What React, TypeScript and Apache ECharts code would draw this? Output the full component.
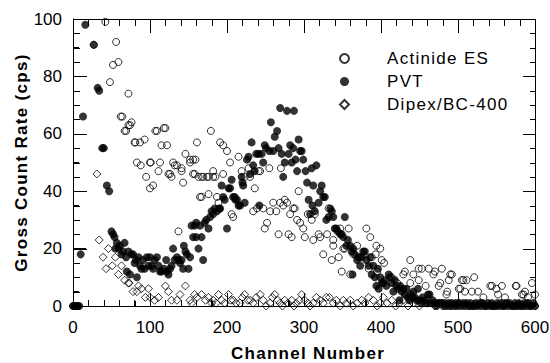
import React, { useEffect, useRef } from "react";
import * as echarts from "echarts";

const FONT = "'Liberation Sans', Arial, Helvetica, sans-serif";
const FONT_SPACED = "'Liberation Sans', Arial, sans-serif";

const seriesNames = ["Actinide ES", "PVT", "Dipex/BC-400"];
const xTitle = "Channel Number";
const yTitle = "Gross Count Rate (cps)";

// [channel, count rate]
const actinideES: [number, number][] = [
  [42, 99], [48, 78], [52, 84], [56, 92], [59, 85], [62, 66], [64, 66], [67, 61], [69, 61], [72, 74],
  [72, 63], [74, 63], [76, 64], [80, 57], [81, 57], [83, 50], [87, 57], [88, 49], [93, 58], [95, 45],
  [100, 50], [100, 41], [101, 50], [104, 42], [107, 61], [109, 61], [111, 47], [113, 50], [115, 56], [118, 62],
  [120, 62], [122, 56], [124, 46], [126, 46], [128, 45], [130, 50], [132, 49], [135, 49], [137, 26], [141, 47],
  [141, 48], [143, 43], [146, 53], [152, 51], [152, 50], [156, 51], [156, 46], [158, 46], [159, 51], [161, 57],
  [163, 45], [165, 38], [167, 45], [167, 38], [169, 45], [174, 45], [176, 39], [176, 45], [179, 61], [182, 47],
  [182, 45], [185, 45], [187, 38], [189, 36], [191, 57], [195, 56], [195, 46], [200, 54], [204, 50], [206, 32],
  [208, 31], [215, 52], [219, 47], [223, 45], [228, 48], [230, 45], [234, 33], [236, 41], [239, 34], [241, 47],
  [243, 47], [247, 34], [249, 27], [252, 29], [255, 48], [256, 33], [260, 36], [264, 33], [267, 25], [269, 36],
  [270, 48], [273, 35], [275, 37], [278, 36], [280, 25], [282, 32], [284, 24], [286, 34], [288, 34], [291, 30],
  [293, 40], [295, 29], [299, 27], [301, 24], [305, 32], [310, 30], [312, 23], [314, 32], [319, 25], [321, 24],
  [325, 18], [330, 25], [332, 34], [336, 16], [338, 21], [338, 23], [345, 17], [347, 27], [349, 12], [351, 20],
  [353, 20], [358, 27], [360, 11], [364, 18], [369, 21], [373, 17], [381, 27], [384, 13], [386, 24], [388, 17],
  [393, 18], [394, 21], [395, 12], [399, 20], [401, 16], [404, 15], [414, 10], [421, 8], [429, 11], [431, 12],
  [438, 16], [438, 8], [442, 11], [449, 13], [449, 9], [453, 13], [458, 7], [462, 13], [468, 11], [470, 12],
  [475, 7], [477, 8], [479, 13], [485, 4], [486, 5], [488, 9], [490, 11], [492, 11], [501, 6], [503, 6],
  [505, 9], [507, 9], [509, 5], [511, 9], [518, 5], [521, 10], [526, 5], [533, 3], [542, 7], [544, 7],
  [550, 6], [552, 4], [557, 7], [561, 3], [575, 7], [576, 7], [583, 4], [585, 4], [587, 5], [591, 3],
  [596, 8], [600, 4],
];

const pvt: [number, number][] = [
  [0, 0], [2, 0], [4, 0], [6, 0], [8, 0], [10, 18], [13, 66], [16, 98], [27, 91], [32, 76],
  [34, 75], [38, 55], [40, 55], [44, 42], [47, 40], [50, 26], [52, 25], [54, 24], [55, 20], [57, 22],
  [59, 20], [61, 21], [63, 18], [65, 19], [67, 22], [69, 17], [70, 12], [72, 19], [74, 11], [76, 18],
  [78, 18], [80, 15], [82, 16], [83, 10], [85, 17], [87, 14], [89, 13], [91, 16], [93, 13], [96, 17],
  [98, 14], [100, 17], [102, 14], [104, 13], [106, 16], [109, 17], [111, 14], [113, 12], [115, 12], [118, 13],
  [121, 16], [122, 12], [124, 11], [126, 13], [128, 14], [130, 20], [132, 16], [135, 17], [137, 16], [139, 15],
  [141, 16], [143, 13], [144, 21], [146, 19], [148, 18], [150, 13], [152, 17], [154, 28], [156, 24], [158, 28],
  [160, 29], [160, 24], [163, 20], [165, 28], [167, 24], [169, 16], [171, 29], [173, 30], [176, 27], [178, 31],
  [180, 33], [182, 32], [184, 34], [187, 33], [190, 34], [191, 34], [193, 42], [195, 38], [197, 37], [200, 27],
  [202, 41], [204, 41], [206, 44], [208, 38], [210, 38], [211, 37], [213, 37], [215, 35], [217, 35], [219, 45],
  [220, 43], [221, 42], [223, 36], [226, 51], [228, 52], [230, 46], [232, 57], [234, 49], [236, 47], [238, 53],
  [241, 53], [242, 35], [245, 53], [247, 50], [249, 56], [251, 55], [255, 54], [257, 64], [260, 54], [262, 59],
  [265, 61], [267, 55], [269, 69], [271, 53], [273, 45], [275, 50], [278, 68], [280, 53], [282, 56], [284, 50],
  [286, 55], [287, 68], [289, 51], [291, 47], [293, 58], [295, 54], [297, 54], [299, 51], [302, 47], [304, 43],
  [306, 37], [308, 32], [310, 48], [311, 35], [312, 42], [314, 33], [316, 49], [319, 36], [321, 40], [323, 42],
  [325, 38], [327, 38], [329, 30], [332, 31], [334, 34], [336, 33], [338, 31], [340, 27], [342, 27], [344, 26],
  [347, 25], [349, 25], [351, 24], [353, 31], [355, 21], [357, 23], [360, 21], [362, 19], [363, 11], [364, 20],
  [366, 18], [369, 16], [371, 17], [373, 14], [375, 17], [377, 19], [379, 19], [381, 16], [384, 14], [386, 17],
  [388, 11], [390, 14], [392, 10], [394, 7], [396, 13], [397, 6], [399, 10], [401, 8], [403, 8], [405, 9],
  [407, 7], [410, 11], [412, 10], [414, 8], [416, 5], [418, 9], [420, 7], [422, 6], [424, 2], [425, 7],
  [427, 5], [429, 6], [431, 4], [433, 6], [435, 3], [437, 2], [439, 4], [441, 3], [442, 5], [444, 3],
  [446, 2], [448, 6], [450, 2], [452, 1], [454, 3], [457, 2], [459, 1], [461, 4], [463, 4], [465, 1],
  [467, 2], [470, 1], [472, 0], [474, 1], [476, 1], [479, 1], [481, 0], [483, 1], [485, 0], [488, 1],
  [490, 0], [492, 1], [495, 0], [497, 1], [499, 0], [502, 1], [504, 0], [507, 1], [509, 0], [511, 1],
  [514, 0], [516, 1], [518, 0], [521, 0], [523, 1], [525, 0], [528, 1], [530, 0], [532, 1], [535, 0],
  [537, 0], [539, 1], [542, 0], [544, 1], [546, 0], [549, 0], [551, 1], [553, 0], [556, 1], [558, 0],
  [560, 0], [563, 1], [565, 0], [567, 1], [570, 0], [572, 0], [574, 1], [577, 0], [579, 1], [581, 0],
  [584, 0], [586, 1], [588, 0], [591, 1], [593, 0], [595, 0], [598, 1], [600, 0],
];

const dipex: [number, number][] = [
  [0, 0], [5, 0], [27, 91], [31, 46], [34, 23], [39, 17], [43, 13], [46, 20], [51, 14], [55, 17],
  [59, 11], [63, 14], [67, 9], [72, 8], [73, 8], [78, 5], [83, 5], [85, 7], [89, 6], [94, 3],
  [98, 6], [100, 3], [106, 2], [111, 3], [120, 7], [124, 5], [128, 2], [135, 2], [139, 4], [146, 7],
  [152, 2], [154, 1], [158, 4], [161, 3], [167, 4], [172, 2], [176, 3], [180, 1], [182, 2], [186, 1],
  [189, 4], [193, 2], [197, 1], [202, 4], [205, 2], [208, 2], [212, 1], [217, 1], [220, 3], [223, 4],
  [227, 2], [230, 2], [234, 1], [238, 3], [243, 4], [247, 2], [251, 0], [256, 1], [259, 3], [262, 4],
  [266, 2], [269, 1], [272, 0], [275, 2], [279, 1], [284, 2], [287, 0], [290, 1], [294, 2], [297, 4],
  [301, 2], [305, 1], [308, 0], [312, 1], [316, 3], [321, 2], [325, 1], [329, 3], [333, 3], [338, 1],
  [342, 2], [347, 0], [351, 2], [355, 1], [360, 2], [364, 0], [369, 1], [375, 2], [379, 1], [384, 3],
  [390, 2], [395, 0], [399, 1], [403, 3], [408, 1], [414, 2], [419, 0], [424, 1], [429, 2], [435, 0],
  [442, 1], [450, 0], [460, 1], [470, 0], [480, 1], [490, 0], [500, 1], [515, 0], [530, 1], [545, 0],
  [560, 1], [575, 0], [590, 1], [600, 0],
];

// axis ranges and tick steps
const xRange = [0, 600];
const yRange = [0, 100];
const xMajor = 100;
const xMinor = 20;
const yMajor = 20;
const yMinor = 5;

const HOLLOW = "rgba(255,255,255,0)";
const BLACK = "#000";
const MAJ = 13;
const MIN = 6;
const GRID = { left: 73, right: 15, top: 19, bottom: 57 };
const CW = 550;
const CH = 363;
const PLOT_W = CW - GRID.left - GRID.right;
const PLOT_H = CH - GRID.top - GRID.bottom;

const xToPx = (v: number) => GRID.left + ((v - xRange[0]) / (xRange[1] - xRange[0])) * PLOT_W;
const yToPx = (v: number) => GRID.top + PLOT_H - ((v - yRange[0]) / (yRange[1] - yRange[0])) * PLOT_H;

function tickValues(range: number[], step: number) {
  const out: number[] = [];
  for (let v = range[0]; v <= range[1] + 1e-9; v += step) out.push(v);
  return out;
}

function Frame() {
  const xl = Math.round(xToPx(xRange[0])) + 0.5;
  const xr = Math.round(xToPx(xRange[1])) + 0.5;
  const yb = Math.round(yToPx(yRange[0])) + 0.5;
  const yt = Math.round(yToPx(yRange[1])) + 0.5;
  const lines: React.ReactElement[] = [];
  tickValues(xRange, xMinor).forEach((v, i) => {
    const len = Math.abs(v % xMajor) < 1e-9 ? MAJ : MIN;
    const x = Math.round(xToPx(v)) + 0.5;
    lines.push(<line key={"xb" + i} x1={x} y1={yb} x2={x} y2={yb - len} />);
    lines.push(<line key={"xt" + i} x1={x} y1={yt} x2={x} y2={yt + len} />);
  });
  tickValues(yRange, yMinor).forEach((v, i) => {
    const len = Math.abs(v % yMajor) < 1e-9 ? MAJ : MIN;
    const y = Math.round(yToPx(v)) + 0.5;
    lines.push(<line key={"yl" + i} x1={xl} y1={y} x2={xl + len} y2={y} />);
    lines.push(<line key={"yr" + i} x1={xr} y1={y} x2={xr - len} y2={y} />);
  });
  return (
    <svg
      width={CW}
      height={CH}
      style={{ position: "absolute", left: 0, top: 0, pointerEvents: "none", zIndex: 5 }}
    >
      <g stroke={BLACK} strokeWidth={1} fill="none" shapeRendering="crispEdges">
        <rect x={xl} y={yt} width={xr - xl} height={yb - yt} />
        {lines}
      </g>
    </svg>
  );
}

export default function App() {
  const ref = useRef<HTMLDivElement>(null);
  useEffect(() => {
    if (!ref.current) return;
    const chart = echarts.init(ref.current, undefined, { renderer: "svg" });
    const nameStyle = { color: BLACK, fontSize: 17, fontWeight: "bold" as const, fontFamily: FONT_SPACED };
    const label = { color: BLACK, fontSize: 17, fontFamily: FONT };
    const axisBase = {
      axisLine: { show: true, onZero: false, lineStyle: { color: BLACK, width: 1 } },
      axisTick: { show: true, inside: true, length: MAJ, lineStyle: { color: BLACK, width: 1 } },
      splitLine: { show: false },
    };
    try {
      chart.setOption({
        animation: false,
        backgroundColor: "#fff",
        textStyle: { fontFamily: FONT },
        grid: { ...GRID, containLabel: false, outerBoundsMode: "none" },
        legend: {
          data: seriesNames,
          orient: "vertical",
          left: 334,
          top: 45,
          itemWidth: 9,
          itemHeight: 9,
          itemGap: 6,
          selectedMode: false,
          textStyle: { color: BLACK, fontSize: 17, fontFamily: FONT_SPACED, padding: [0, 0, 0, 33] },
        },
        xAxis: {
          type: "value",
          min: xRange[0],
          max: xRange[1],
          interval: xMajor,
          position: "bottom",
          ...axisBase,
          minorTick: { show: true, splitNumber: xMajor / xMinor, length: MIN, lineStyle: { color: BLACK, width: 1 } },
          axisLabel: { ...label, margin: 13 },
          name: xTitle,
          nameLocation: "middle",
          nameGap: 39,
          nameMoveOverlap: false,
          nameTextStyle: { ...nameStyle, lineHeight: 17, padding: [0, 0, 0, 8] },
        },
        yAxis: {
          type: "value",
          min: yRange[0],
          max: yRange[1],
          interval: yMajor,
          position: "left",
          ...axisBase,
          minorTick: { show: true, splitNumber: yMajor / yMinor, length: MIN, lineStyle: { color: BLACK, width: 1 } },
          axisLabel: { ...label, margin: 11 },
          name: yTitle,
          nameLocation: "middle",
          nameGap: 43,
          nameMoveOverlap: false,
          nameTextStyle: nameStyle,
        },
        series: [
          {
            name: seriesNames[2],
            type: "scatter",
            data: dipex,
            symbol: "diamond",
            symbolSize: 8,
            itemStyle: { color: HOLLOW, borderColor: BLACK, borderWidth: 1 },
          },
          {
            name: seriesNames[1],
            type: "scatter",
            data: pvt,
            symbol: "circle",
            symbolSize: 8,
            itemStyle: { color: BLACK, borderColor: BLACK, borderWidth: 0 },
          },
          {
            name: seriesNames[0],
            type: "scatter",
            data: actinideES,
            symbol: "circle",
            symbolSize: 7,
            itemStyle: { color: HOLLOW, borderColor: BLACK, borderWidth: 1 },
          },
        ],
      });
    } catch (e) {
      // keep the page alive even if an option is not understood
    }
    return () => chart.dispose();
  }, []);
  return (
    <div style={{ position: "fixed", left: 0, top: 0, width: CW, height: CH, background: "#fff" }}>
      <style>{`text[style*="sans-serif"]:not([style*="Helvetica"]), text[font-family*="sans-serif"]:not([font-family*="Helvetica"]) { letter-spacing: 1.3px; }`}</style>
      <div ref={ref} style={{ position: "absolute", left: 0, top: 0, width: CW, height: CH }} />
      <Frame />
    </div>
  );
}
